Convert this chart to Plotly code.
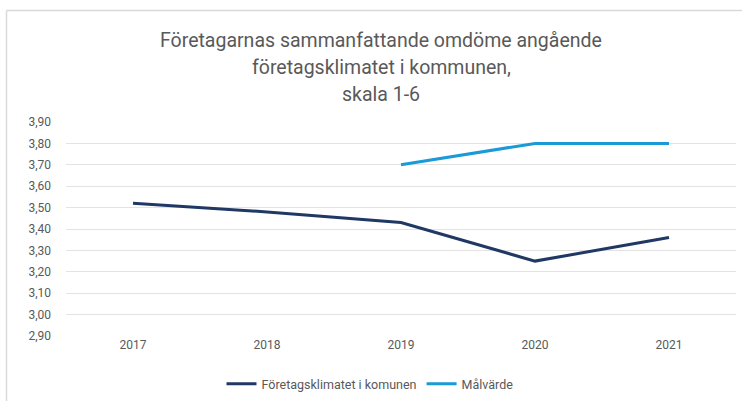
import plotly.graph_objects as go

years = ["2017", "2018", "2019", "2020", "2021"]
klimat = [3.52, 3.48, 3.43, 3.25, 3.36]
malvarde = [None, None, 3.70, 3.80, 3.80]
y_ticks = [2.9, 3.0, 3.1, 3.2, 3.3, 3.4, 3.5, 3.6, 3.7, 3.8, 3.9]
y_labels = ["2,90", "3,00", "3,10", "3,20", "3,30", "3,40", "3,50", "3,60", "3,70", "3,80", "3,90"]
title_lines = ["Företagarnas sammanfattande omdöme angående",
               "företagsklimatet i kommunen,",
               "skala 1-6"]

FONT = "Liberation Sans Narrow, Arial Narrow, Roboto, sans-serif"
GRAY = "#595959"

fig = go.Figure()
fig.add_trace(go.Scatter(x=years, y=klimat, mode="lines", name="Företagsklimatet i komunen",
                         line=dict(color="#203864", width=3)))
fig.add_trace(go.Scatter(x=years, y=malvarde, mode="lines", name="Målvärde",
                         line=dict(color="#1a9ad6", width=3)))

L, R, T, B = 66, 6, 122, 65
W, H = 742, 401
pw = W - L - R
ph = H - T - B

def px_x(p):
    return (p - L) / pw

def px_y(p):
    return (H - B - p) / ph

annotations = []
for i, line in enumerate(title_lines):
    annotations.append(dict(text=line, xref="paper", yref="paper", x=px_x(381), y=px_y(40 + 27 * i),
                            xanchor="center", yanchor="middle", showarrow=False,
                            font=dict(family=FONT, size=19.5, color=GRAY)))

fig.update_layout(
    width=W, height=H,
    margin=dict(l=L, r=R, t=T, b=B, autoexpand=False),
    paper_bgcolor="white", plot_bgcolor="white",
    font=dict(family=FONT, color=GRAY, size=12),
    showlegend=True,
    legend=dict(orientation="h", xref="container", x=370 / W, xanchor="center",
                yref="container", y=1 - 384 / H, yanchor="middle",
                font=dict(family=FONT, size=12.5, color=GRAY),
                itemwidth=30, traceorder="normal"),
    annotations=annotations,
    xaxis=dict(type="category", showgrid=False, showline=False, ticks="",
               tickfont=dict(family=FONT, size=12, color=GRAY), range=[-0.5, 4.5],
               automargin=False),
    yaxis=dict(range=[2.9, 3.9], tickvals=y_ticks, ticktext=y_labels, showgrid=True,
               gridcolor="#e3e3e3", gridwidth=1, zeroline=False, showline=False, ticks="",
               tickfont=dict(family=FONT, size=12, color=GRAY), ticklabelstandoff=14,
               automargin=False),
    shapes=[
        dict(type="line", xref="paper", yref="paper", x0=px_x(6.5), x1=px_x(745),
             y0=px_y(10.5), y1=px_y(10.5), line=dict(color="#d9d9d9", width=1.5)),
        dict(type="line", xref="paper", yref="paper", x0=px_x(6.5), x1=px_x(6.5),
             y0=px_y(10.5), y1=px_y(405), line=dict(color="#d9d9d9", width=1.5)),
    ],
)

fig.write_html("out.html", config={"displayModeBar": False},
               post_script="document.body.style.margin='0';document.body.style.overflow='hidden';")
